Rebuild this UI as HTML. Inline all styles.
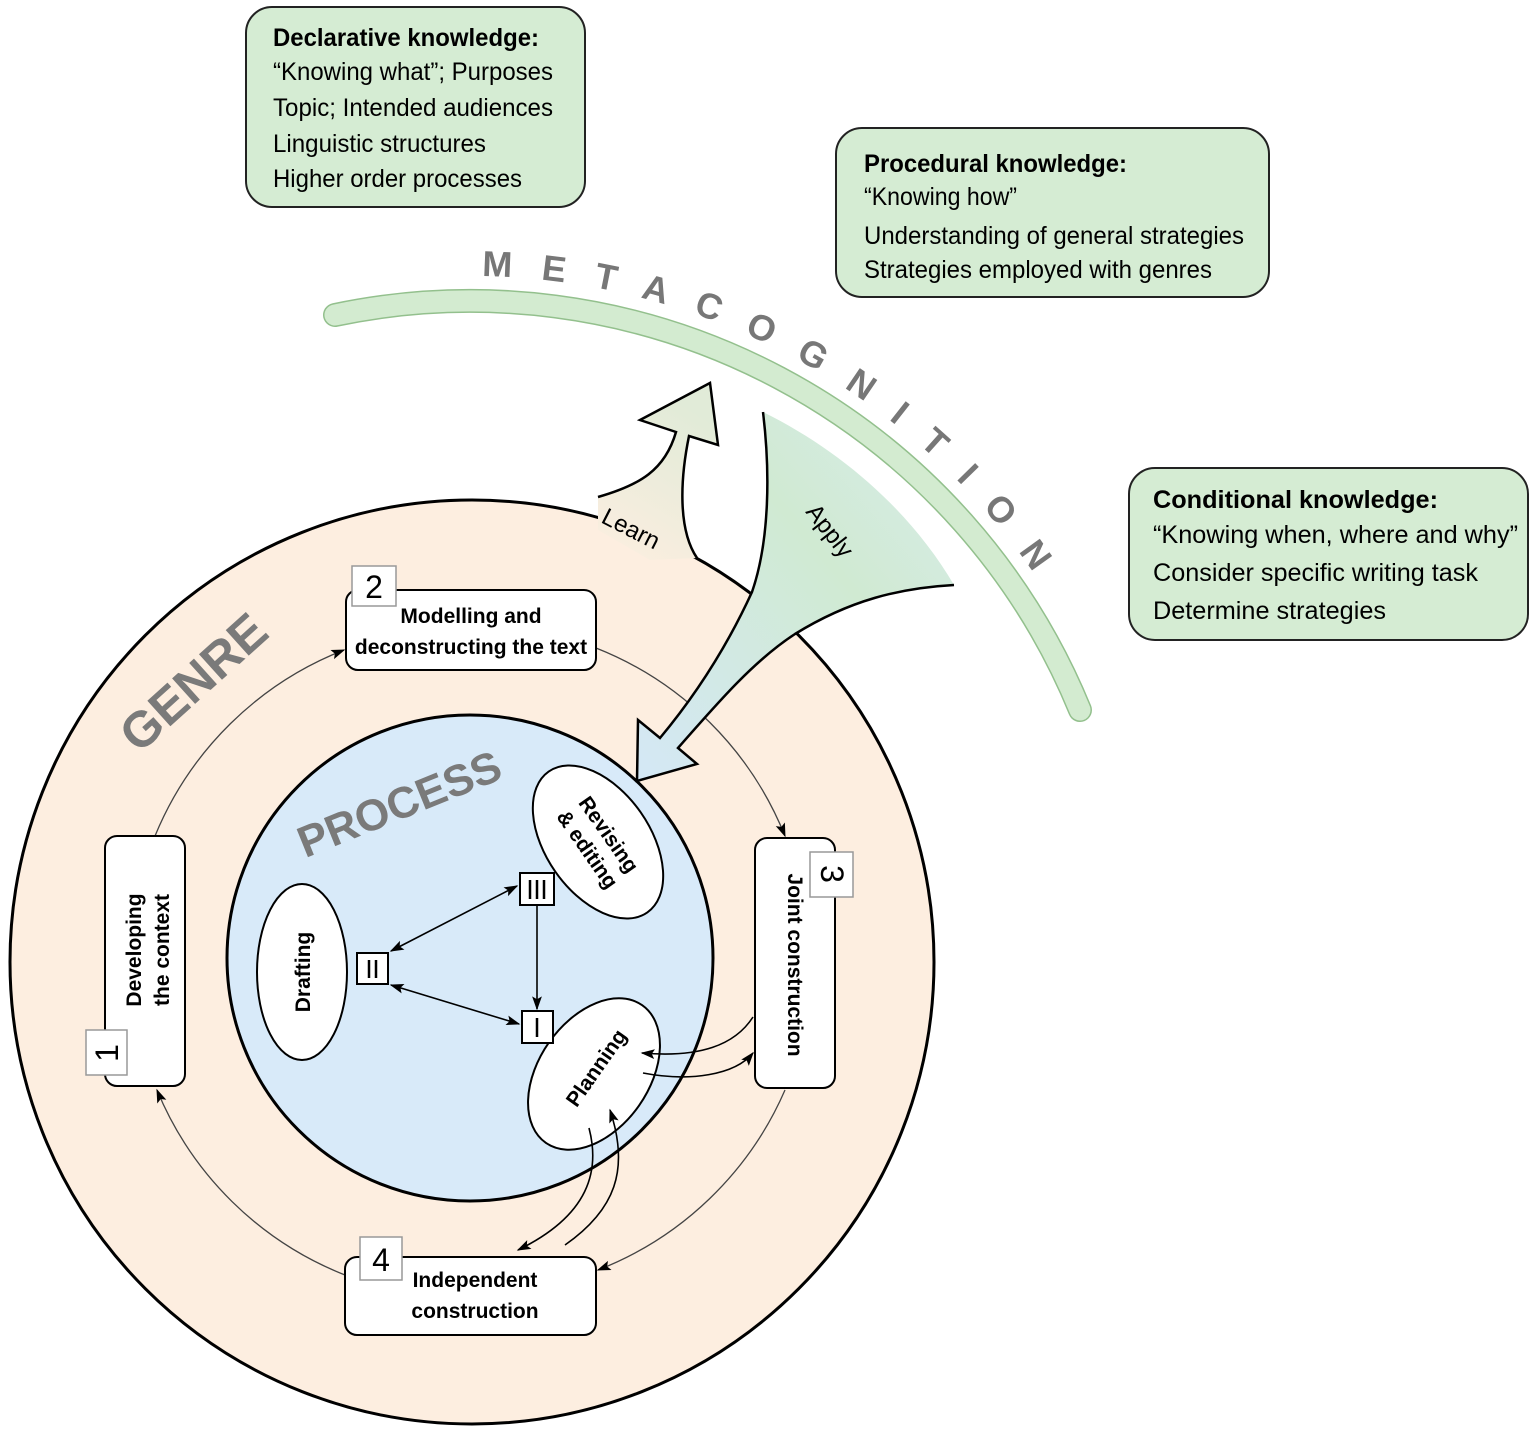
<!DOCTYPE html>
<html><head><meta charset="utf-8"><style>
html,body{margin:0;padding:0;background:#fff;}
svg{display:block;}
text{font-family:"Liberation Sans",Arial,sans-serif;}
</style></head><body>
<svg width="1535" height="1433" viewBox="0 0 1535 1433" xmlns="http://www.w3.org/2000/svg">
<defs>
<marker id="ah" viewBox="0 0 10 10" refX="9" refY="5" markerWidth="8" markerHeight="8" orient="auto-start-reverse" markerUnits="userSpaceOnUse"><path d="M0,1 L10,5 L0,9 Z" fill="#000"/></marker>
<marker id="ah2" viewBox="0 0 10 10" refX="9" refY="5" markerWidth="16" markerHeight="14" orient="auto-start-reverse" markerUnits="userSpaceOnUse"><path d="M0,1.5 L10,5 L0,8.5 L2,5 Z" fill="#000"/></marker>
<linearGradient id="lg" x1="0" y1="1" x2="0.4" y2="0"><stop offset="0" stop-color="#fdeee0"/><stop offset="1" stop-color="#e1ebd8"/></linearGradient>
<linearGradient id="ag" x1="1" y1="0" x2="0" y2="1"><stop offset="0" stop-color="#d8ecec"/><stop offset="0.4" stop-color="#d0ead2"/><stop offset="1" stop-color="#d4e8f6"/></linearGradient>
<path id="mp" d="M482,276 A684 684 0 0 1 1062,618"/>
</defs>

<!-- Metacognition band -->
<path d="M335,315 A659 659 0 0 1 1080,710" fill="none" stroke="#93c08d" stroke-width="24" stroke-linecap="round"/>
<path d="M335,315 A659 659 0 0 1 1080,710" fill="none" stroke="#d3ebd0" stroke-width="21" stroke-linecap="round"/>
<text font-size="36" font-weight="bold" fill="#777"><textPath href="#mp" textLength="650" lengthAdjust="spacing">METACOGNITION</textPath></text>

<!-- Knowledge boxes -->
<rect x="246" y="7" width="339" height="200" rx="26" fill="#d5ecd3" stroke="#222" stroke-width="2"/>
<text font-size="25" fill="#000">
<tspan x="273" y="46" font-weight="bold" textLength="266" lengthAdjust="spacingAndGlyphs">Declarative knowledge:</tspan>
<tspan x="273" y="80" textLength="280" lengthAdjust="spacingAndGlyphs">“Knowing what”; Purposes</tspan>
<tspan x="273" y="116" textLength="280" lengthAdjust="spacingAndGlyphs">Topic; Intended audiences</tspan>
<tspan x="273" y="152" textLength="213" lengthAdjust="spacingAndGlyphs">Linguistic structures</tspan>
<tspan x="273" y="187" textLength="249" lengthAdjust="spacingAndGlyphs">Higher order processes</tspan>
</text>
<rect x="836" y="128" width="433" height="169" rx="26" fill="#d5ecd3" stroke="#222" stroke-width="2"/>
<text font-size="25" fill="#000">
<tspan x="864" y="172" font-weight="bold" textLength="263" lengthAdjust="spacingAndGlyphs">Procedural knowledge:</tspan>
<tspan x="864" y="205" textLength="153" lengthAdjust="spacingAndGlyphs">“Knowing how”</tspan>
<tspan x="864" y="244" textLength="380" lengthAdjust="spacingAndGlyphs">Understanding of general strategies</tspan>
<tspan x="864" y="278" textLength="348" lengthAdjust="spacingAndGlyphs">Strategies employed with genres</tspan>
</text>
<rect x="1129" y="468" width="399" height="172" rx="26" fill="#d5ecd3" stroke="#222" stroke-width="2"/>
<text font-size="25" fill="#000">
<tspan x="1153" y="508" font-weight="bold" textLength="285" lengthAdjust="spacingAndGlyphs">Conditional knowledge:</tspan>
<tspan x="1153" y="543" textLength="365" lengthAdjust="spacingAndGlyphs">“Knowing when, where and why”</tspan>
<tspan x="1153" y="581" textLength="325" lengthAdjust="spacingAndGlyphs">Consider specific writing task</tspan>
<tspan x="1153" y="619" textLength="233" lengthAdjust="spacingAndGlyphs">Determine strategies</tspan>
</text>

<!-- Outer circle -->
<circle cx="472" cy="962" r="462" fill="#fdeee0" stroke="#000" stroke-width="3"/>

<!-- Learn arrow -->
<path d="M598,497 C640,485 665,470 676,432 L640,420 L710,383 L718,445 L689,436 C680,480 678,530 697,558 L650,560 L598,530 Z" fill="url(#lg)"/>
<path d="M598,497 C640,485 665,470 676,432 L640,420 L710,383 L718,445 L689,436 C680,480 678,530 697,558" fill="none" stroke="#000" stroke-width="2.5"/>

<!-- Connector circle arcs -->
<g fill="none" stroke="#444" stroke-width="1.3">
<path d="M155,836 A337 337 0 0 1 344,650" marker-end="url(#ah2)"/>
<path d="M596,648 A337 337 0 0 1 785,836" marker-end="url(#ah2)"/>
<path d="M785,1090 A337 337 0 0 1 598,1270" marker-end="url(#ah2)"/>
<path d="M345,1275 A337 337 0 0 1 157,1090" marker-end="url(#ah2)"/>
</g>

<!-- Inner circle -->
<circle cx="470" cy="958" r="243" fill="#d8eaf9" stroke="#000" stroke-width="3"/>

<!-- Apply arrow -->
<path d="M763,412 C770,470 770,540 752,592 C730,640 700,690 660,738 L638,720 L637,781 L697,764 L678,748 C720,700 755,660 795,634 C850,600 900,588 954,585 C910,510 840,450 763,412 Z" fill="url(#ag)"/>
<path d="M763,412 C770,470 770,540 752,592 C730,640 700,690 660,738 L638,720 L637,781 L697,764 L678,748 C720,700 755,660 795,634 C850,600 900,588 954,585" fill="none" stroke="#000" stroke-width="2.5"/>
<text x="0" y="0" font-size="24" transform="translate(600,522) rotate(27)">Learn</text>
<text x="0" y="0" font-size="24" transform="translate(805,512) rotate(52)">Apply</text>

<!-- Labels -->
<text font-size="50" font-weight="bold" fill="#7a7a7a" text-anchor="middle" transform="translate(205,695) rotate(-42)">GENRE</text>
<text font-size="44" font-weight="bold" fill="#7a7a7a" text-anchor="middle" transform="translate(405,818) rotate(-22)">PROCESS</text>

<!-- Stage boxes -->
<rect x="346" y="590" width="250" height="80" rx="12" fill="#fff" stroke="#000" stroke-width="2"/>
<text font-size="21" font-weight="bold" text-anchor="middle"><tspan x="471" y="623">Modelling and</tspan><tspan x="471" y="654">deconstructing the text</tspan></text>
<rect x="352" y="566" width="44" height="40" fill="#fff" stroke="#999" stroke-width="1.5"/>
<text x="374" y="598" font-size="32" text-anchor="middle">2</text>

<rect x="105" y="836" width="80" height="250" rx="12" fill="#fff" stroke="#000" stroke-width="2"/>
<text font-size="21" font-weight="bold" text-anchor="middle" transform="translate(145,950) rotate(-90)"><tspan x="0" y="-4">Developing</tspan><tspan x="0" y="24">the context</tspan></text>
<rect x="86" y="1030" width="41" height="45" fill="#fff" stroke="#999" stroke-width="1.5"/>
<text font-size="32" text-anchor="middle" transform="translate(118,1053) rotate(-90)">1</text>

<rect x="755" y="838" width="80" height="250" rx="12" fill="#fff" stroke="#000" stroke-width="2"/>
<text font-size="21" font-weight="bold" text-anchor="middle" transform="translate(788,965) rotate(90)">Joint construction</text>
<rect x="810" y="852" width="43" height="45" fill="#fff" stroke="#999" stroke-width="1.5"/>
<text font-size="32" text-anchor="middle" transform="translate(821,874) rotate(90)">3</text>

<rect x="345" y="1257" width="251" height="78" rx="12" fill="#fff" stroke="#000" stroke-width="2"/>
<text font-size="21" font-weight="bold" text-anchor="middle"><tspan x="475" y="1287">Independent</tspan><tspan x="475" y="1318">construction</tspan></text>
<rect x="360" y="1237" width="42" height="43" fill="#fff" stroke="#999" stroke-width="1.5"/>
<text x="381" y="1271" font-size="32" text-anchor="middle">4</text>

<!-- Ellipses -->
<ellipse cx="302" cy="972" rx="45" ry="88" fill="#fff" stroke="#000" stroke-width="2"/>
<text font-size="21" font-weight="bold" text-anchor="middle" transform="translate(310,972) rotate(-90)">Drafting</text>
<ellipse cx="598" cy="842" rx="52" ry="86" fill="#fff" stroke="#000" stroke-width="2" transform="rotate(-35 598 842)"/>
<text font-size="21" font-weight="bold" text-anchor="middle" transform="translate(598,842) rotate(55)"><tspan x="0" y="-6">Revising</tspan><tspan x="0" y="20">&amp; editing</tspan></text>
<ellipse cx="594" cy="1074" rx="55" ry="84" fill="#fff" stroke="#000" stroke-width="2" transform="rotate(35 594 1074)"/>
<text font-size="21" font-weight="bold" text-anchor="middle" transform="translate(602,1072) rotate(-55)">Planning</text>

<!-- Roman squares -->
<g fill="#fff" stroke="#000" stroke-width="2">
<rect x="520" y="873" width="34" height="32"/>
<rect x="357" y="953" width="31" height="31"/>
<rect x="522" y="1011" width="31" height="32"/>
</g>
<g stroke="#000" stroke-width="2.5">
<line x1="530" y1="880" x2="530" y2="899"/><line x1="537" y1="880" x2="537" y2="899"/><line x1="544" y1="880" x2="544" y2="899"/>
<line x1="369" y1="960" x2="369" y2="978"/><line x1="376" y1="960" x2="376" y2="978"/>
<line x1="537" y1="1018" x2="537" y2="1037"/>
</g>
<g stroke="#000" stroke-width="1.6" fill="none">
<line x1="391" y1="951" x2="517" y2="886" marker-start="url(#ah2)" marker-end="url(#ah2)"/>
<line x1="391" y1="985" x2="519" y2="1024" marker-start="url(#ah2)" marker-end="url(#ah2)"/>
<line x1="537" y1="906" x2="537" y2="1009" marker-end="url(#ah2)"/>
<!-- planning <-> joint -->
<path d="M753,1017 C735,1045 700,1058 642,1053" marker-end="url(#ah2)"/>
<path d="M643,1073 C690,1082 735,1075 753,1053" marker-end="url(#ah2)"/>
<!-- planning <-> independent -->
<path d="M589,1128 C600,1170 590,1215 518,1250" marker-end="url(#ah2)"/>
<path d="M565,1245 C615,1210 630,1170 610,1110" marker-end="url(#ah2)"/>
</g>
</svg>
</body></html>
